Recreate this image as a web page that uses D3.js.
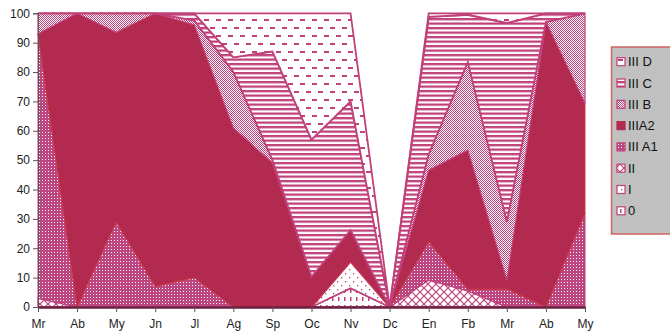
<!DOCTYPE html>
<html><head><meta charset="utf-8">
<script src="https://cdn.jsdelivr.net/npm/d3@7"></script>
<style>html,body{margin:0;padding:0;background:#fff;} svg{display:block;font-family:"Liberation Sans",Arial,sans-serif;}</style>
</head><body><svg id="c" width="670" height="334"></svg>
<script>
// ---- data ----
const categories = ["Mr","Ab","My","Jn","Jl","Ag","Sp","Oc","Nv","Dc","En","Fb","Mr","Ab","My"];
const s0   = [0,0,0,0,0,0,0,0,6.4,0,0,0,0,0,0];
const sI   = [0,0,0,0,0,0,0,0,9,0,0,0,0,0,0];
const sII  = [3,0,0,0,0,0,0,0,0,0,9.2,5.5,0,0,0];
const sA1  = [90,0,29,7,10,0,0,0,0,0,13,0.6,6.1,0,32];
const sA2  = [0,100,64.5,93,86,61,49,10.3,10.8,0,24.4,47.3,3.1,97,37.4];
const sB   = [7,0,6.5,0,1.5,19,1,0,0,0,5.4,30,19.8,0,30.6];
const sC   = [0,0,0,0,2.5,5,37,46.7,43.8,0,46.8,16.1,67.7,3,0];
const sD   = [0,0,0,0,0,15,13,43,30,0,1.2,0.5,3.3,0,0];
const seriesNames = ["0","I","II","III A1","IIIA2","III B","III C","III D"];
const seriesValues = [s0,sI,sII,sA1,sA2,sB,sC,sD];
const yTicks = [0,10,20,30,40,50,60,70,80,90,100];

// ---- setup ----
const svg = d3.select("#c");
const pink = "#c0407a", crimson = "#b22a50";
const x = d3.scalePoint().domain(d3.range(categories.length)).range([38,585]);
const y = d3.scaleLinear().domain([0,100]).range([307,13.3]);

const defs = svg.append("defs");
function pat(id,w,h,build){
  const p = defs.append("pattern").attr("id",id).attr("patternUnits","userSpaceOnUse")
    .attr("width",w).attr("height",h);
  build(p); return `url(#${id})`;
}
const fills = [
  pat("p0",6,8,p=>{p.append("rect").attr("width",6).attr("height",8).attr("fill","#fff");
    p.append("rect").attr("x",2).attr("y",1).attr("width",1.5).attr("height",4).attr("fill",pink);}),
  pat("pI",8,8,p=>{p.append("rect").attr("width",8).attr("height",8).attr("fill","#fff");
    p.append("rect").attr("x",1).attr("y",1).attr("width",1.3).attr("height",1.3).attr("fill",pink);
    p.append("rect").attr("x",5).attr("y",5).attr("width",1.3).attr("height",1.3).attr("fill",pink);}),
  pat("pII",8,8,p=>{p.append("rect").attr("width",8).attr("height",8).attr("fill","#fff");
    p.append("path").attr("d","M-2,-2L10,10M10,-2L-2,10").attr("stroke",pink).attr("stroke-width",1.2);}),
  pat("pA1",3,3,p=>{p.append("rect").attr("width",3).attr("height",3).attr("fill","#bf4580");
    p.append("rect").attr("width",1).attr("height",1).attr("fill","#ffffff");}),
  crimson,
  pat("pB",2,2,p=>{p.append("rect").attr("width",2).attr("height",2).attr("fill","#fff");
    p.append("rect").attr("width",1).attr("height",1).attr("fill",pink);
    p.append("rect").attr("x",1).attr("y",1).attr("width",1).attr("height",1).attr("fill",pink);}),
  pat("pC",10,4.5,p=>{p.append("rect").attr("width",10).attr("height",4.5).attr("fill","#fff");
    p.append("rect").attr("y",0).attr("width",10).attr("height",2.3).attr("fill",pink);}),
  pat("pD",12,16,p=>{p.append("rect").attr("width",12).attr("height",16).attr("fill","#fff");
    p.append("rect").attr("x",0).attr("y",3).attr("width",5).attr("height",2).attr("fill",pink);
    p.append("rect").attr("x",6).attr("y",11).attr("width",5).attr("height",2).attr("fill",pink);})
];
const strokes = [pink,pink,pink,pink,"#cc3a3c",pink,pink,pink];
const strokeW = [1.5,1.5,1.5,1,1,1.2,1.8,1.8];

// ---- stack ----
const rows = categories.map((c,i)=>{const r={i}; seriesNames.forEach((n,k)=>r[n]=seriesValues[k][i]); return r;});
const stacked = d3.stack().keys(seriesNames)(rows);
const area = d3.area().x(d=>x(d.data.i)).y0(d=>y(d[0])).y1(d=>y(d[1]));

svg.append("g").selectAll("path").data(stacked).join("path")
  .attr("d",area).attr("fill",(d,k)=>fills[k])
  .attr("stroke",(d,k)=>strokes[k]).attr("stroke-width",(d,k)=>strokeW[k])
  .attr("stroke-linejoin","miter");

// ---- axes ----
const yAxis = svg.append("g").attr("transform","translate(38,0)")
  .call(d3.axisLeft(y).tickValues(yTicks).tickSize(5).tickPadding(3));
yAxis.select(".domain").attr("stroke","#555").attr("stroke-width",1);
yAxis.selectAll(".tick line").attr("stroke","#555");
yAxis.selectAll("text").attr("font-size",12).attr("fill","#222").attr("font-family","Liberation Sans, Arial, sans-serif");

const xAxis = svg.append("g").attr("transform","translate(0,307)")
  .call(d3.axisBottom(x).tickFormat(i=>categories[i]).tickSize(5).tickPadding(7).tickSizeOuter(0));
xAxis.select(".domain").attr("stroke","#6a1e40").attr("stroke-width",2.5);
xAxis.selectAll(".tick line").attr("stroke","#555");
xAxis.selectAll("text").attr("font-size",12).attr("fill","#222").attr("font-family","Liberation Sans, Arial, sans-serif");

// ---- legend ----
const lg = svg.append("g");
lg.append("rect").attr("x",611.5).attr("y",47).attr("width",70).attr("height",187)
  .attr("fill","#c0c0c0").attr("stroke","#d06464").attr("stroke-width",1.5);
const legendOrder = d3.range(seriesNames.length).reverse();
legendOrder.forEach((k,j)=>{
  const cy = 61.7 + j*21.3;
  lg.append("rect").attr("x",617).attr("y",cy-4).attr("width",8).attr("height",8)
    .attr("fill",fills[k]).attr("stroke",k===4?crimson:pink).attr("stroke-width",1.2);
  lg.append("text").attr("x",628).attr("y",cy+4.5).attr("font-size",13).attr("fill","#111")
    .text(seriesNames[k]);
});
</script></body></html>
